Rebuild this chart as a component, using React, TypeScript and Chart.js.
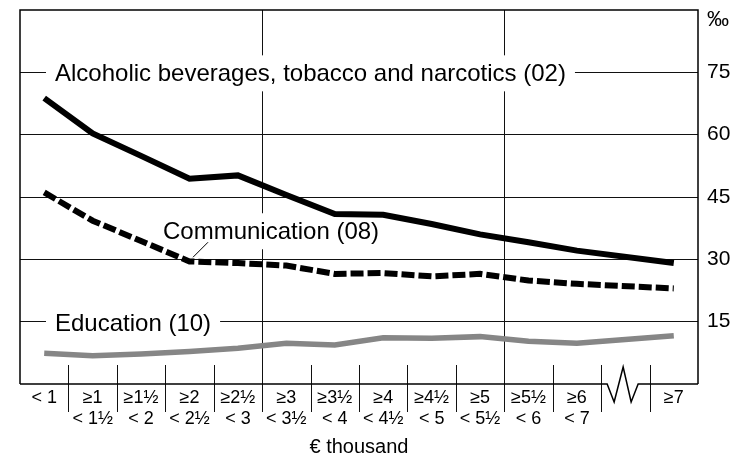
import React, { useEffect, useRef } from 'react';
import { Chart, registerables } from 'chart.js';

Chart.register(...registerables);

const categories: (string | string[])[] = [
  '< 1',
  ['≥1', '< 1½'],
  ['≥1½', '< 2'],
  ['≥2', '< 2½'],
  ['≥2½', '< 3'],
  ['≥3', '< 3½'],
  ['≥3½', '< 4'],
  ['≥4', '< 4½'],
  ['≥4½', '< 5'],
  ['≥5', '< 5½'],
  ['≥5½', '< 6'],
  ['≥6', '< 7'],
  '',
  '≥7',
];
const breakIndex = 12;

const alcohol = [68.8, 60.3, 54.9, 49.4, 50.2, 45.5, 40.9, 40.7, 38.5, 36.0, 34.1, 32.1, null, 29.1];
const communication = [46.1, 39.3, 34.4, 29.5, 29.1, 28.5, 26.5, 26.7, 25.9, 26.5, 24.9, 24.1, null, 23.0];
const education = [7.4, 6.8, 7.2, 7.8, 8.6, 9.8, 9.4, 11.1, 11.0, 11.4, 10.3, 9.8, null, 11.6];

const yTicks = [15, 30, 45, 60, 75];
const yMax = 90;

const alcoholLabel = 'Alcoholic beverages, tobacco and narcotics (02)';
const communicationLabel = 'Communication (08)';
const educationLabel = 'Education (10)';
const unitLabel = '‰';
const xTitle = '€ thousand';

const FONT = '"Liberation Sans", Arial, Helvetica, sans-serif';

const decorPlugin = {
  id: 'decor',
  beforeDatasetsDraw(chart: any) {
    const { ctx, chartArea: a, scales } = chart;
    const y = scales.y;
    const n = categories.length;
    const colW = (a.right - a.left) / n;
    const bound = (i: number) => a.left + i * colW;
    ctx.save();
    ctx.strokeStyle = '#111';
    ctx.lineWidth = 1;
    // column separators and vertical grid lines
    for (let i = 1; i < n; i++) {
      const bx = Math.round(bound(i)) + 0.5;
      const full = i % 5 === 0;
      ctx.beginPath();
      ctx.moveTo(bx, full ? a.top : a.bottom - 19);
      ctx.lineTo(bx, a.bottom + 28);
      ctx.stroke();
    }
    // frame
    ctx.strokeStyle = '#000';
    ctx.lineWidth = 1.5;
    ctx.lineJoin = 'miter';
    ctx.beginPath();
    ctx.moveTo(a.left, a.bottom);
    ctx.lineTo(a.left, a.top);
    ctx.lineTo(a.right, a.top);
    ctx.lineTo(a.right, a.bottom);
    ctx.stroke();
    const c0 = bound(breakIndex);
    const b = a.bottom;
    ctx.beginPath();
    ctx.moveTo(a.left, b);
    ctx.lineTo(c0 + 6, b);
    ctx.lineTo(c0 + 13, b + 18);
    ctx.lineTo(c0 + 22, b - 17);
    ctx.lineTo(c0 + 30, b + 18);
    ctx.lineTo(c0 + 37, b);
    ctx.lineTo(a.right, b);
    ctx.stroke();

    // series labels with white boxes
    ctx.font = '24px ' + FONT;
    ctx.textBaseline = 'alphabetic';
    ctx.textAlign = 'left';
    const labels = [
      { text: alcoholLabel, x: a.left + 35, value: 75 },
      { text: educationLabel, x: a.left + 35, value: 15 },
      { text: communicationLabel, x: a.left + 143, value: 37 },
    ];
    for (const l of labels) {
      const base = y.getPixelForValue(l.value) + 9;
      const w = ctx.measureText(l.text).width;
      ctx.fillStyle = '#fff';
      ctx.fillRect(l.x - 9, base - 26, w + 18, 36);
      ctx.fillStyle = '#000';
      ctx.fillText(l.text, l.x, base);
      if (l.text === communicationLabel) {
        ctx.strokeStyle = '#000';
        ctx.lineWidth = 1;
        ctx.beginPath();
        ctx.moveTo(l.x + 45, base + 3);
        ctx.lineTo(l.x + 30, base + 18);
        ctx.stroke();
      }
    }

    // unit and axis title
    ctx.font = '22px ' + FONT;
    ctx.textBaseline = 'middle';
    ctx.fillText(unitLabel, a.right + 9, a.top + 10);
    ctx.font = '20px ' + FONT;
    ctx.textAlign = 'center';
    ctx.textBaseline = 'alphabetic';
    ctx.fillText(xTitle, (a.left + a.right) / 2, a.bottom + 69);
    ctx.restore();
  },
};

export default function App() {
  const ref = useRef<HTMLCanvasElement | null>(null);
  useEffect(() => {
    if (!ref.current) return;
    const chart = new Chart(ref.current, {
      type: 'line',
      data: {
        labels: categories,
        datasets: [
          {
            label: educationLabel,
            data: education,
            borderColor: '#868686',
            borderWidth: 5.5,
            pointRadius: 0,
            tension: 0,
            spanGaps: true,
            borderCapStyle: 'butt',
          },
          {
            label: communicationLabel,
            data: communication,
            borderColor: '#000',
            borderWidth: 6,
            borderDash: [13, 4],
            pointRadius: 0,
            tension: 0,
            spanGaps: true,
            borderCapStyle: 'butt',
          },
          {
            label: alcoholLabel,
            data: alcohol,
            borderColor: '#000',
            borderWidth: 6,
            pointRadius: 0,
            tension: 0,
            spanGaps: true,
            borderCapStyle: 'butt',
          },
        ],
      },
      options: {
        responsive: false,
        animation: false,
        layout: { padding: { left: 20, top: 10, right: 0, bottom: 0 } },
        plugins: { legend: { display: false }, tooltip: { enabled: false } },
        scales: {
          x: {
            type: 'category',
            offset: true,
            grid: { display: false, drawTicks: false },
            border: { display: false },
            ticks: {
              autoSkip: false,
              maxRotation: 0,
              minRotation: 0,
              padding: 4,
              color: '#000',
              font: { family: FONT, size: 18, lineHeight: 1.167 },
            },
            afterFit: (s: any) => {
              s.height = 73;
            },
          },
          y: {
            position: 'right',
            min: 0,
            max: yMax,
            afterBuildTicks: (s: any) => {
              s.ticks = yTicks.map((v) => ({ value: v }));
            },
            grid: {
              color: '#111',
              lineWidth: 1,
              drawTicks: true,
              tickLength: 9,
              tickColor: 'rgba(0,0,0,0)',
            },
            border: { display: false },
            ticks: {
              padding: 0,
              color: '#000',
              font: { family: FONT, size: 21, lineHeight: 0.9 },
            },
            afterFit: (s: any) => {
              s.width = 42;
            },
          },
        },
      },
      plugins: [decorPlugin],
    });
    return () => chart.destroy();
  }, []);
  return (
    <div style={{ position: 'fixed', left: 0, top: 0, width: 740, height: 457, background: '#fff' }}>
      <canvas ref={ref} width={740} height={457} style={{ display: 'block' }} />
    </div>
  );
}
